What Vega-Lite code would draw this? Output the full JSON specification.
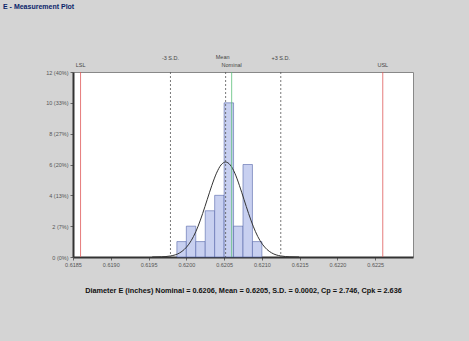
{
  "$schema": "https://vega.github.io/schema/vega-lite/v6.json",
  "width": 340,
  "height": 185,
  "autosize": {"type": "none"},
  "padding": {"left": 73, "top": 72, "right": 56, "bottom": 84},
  "background": "#d4d4d4",
  "title": {"text": "E - Measurement Plot", "anchor": "start", "frame": "group", "offset": 45, "dx": -70, "fontSize": 7, "fontWeight": "bold", "color": "#0a246a", "font": "Liberation Sans"},
  "config": {
    "view": {"fill": "white", "stroke": "#888888", "strokeWidth": 1},
    "font": "Liberation Sans",
    "axis": {"grid": false, "labelFont": "Liberation Sans", "titleFont": "Liberation Sans", "labelOverlap": false}
  },
  "datasets": {
    "bins": [
      {"start": 0.619875, "end": 0.62, "count": 1},
      {"start": 0.62, "end": 0.620125, "count": 2},
      {"start": 0.620125, "end": 0.62025, "count": 1},
      {"start": 0.62025, "end": 0.620375, "count": 3},
      {"start": 0.620375, "end": 0.6205, "count": 4},
      {"start": 0.6205, "end": 0.620625, "count": 10},
      {"start": 0.620625, "end": 0.62075, "count": 2},
      {"start": 0.62075, "end": 0.620875, "count": 6},
      {"start": 0.620875, "end": 0.621, "count": 1}
    ],
    "curve": [
      {"x": 0.619548, "y": 0.002},
      {"x": 0.61967, "y": 0.0135},
      {"x": 0.619791, "y": 0.068},
      {"x": 0.619913, "y": 0.27},
      {"x": 0.619973, "y": 0.49},
      {"x": 0.620034, "y": 0.834},
      {"x": 0.620095, "y": 1.332},
      {"x": 0.620156, "y": 2.0},
      {"x": 0.620216, "y": 2.82},
      {"x": 0.620277, "y": 3.736},
      {"x": 0.620338, "y": 4.65},
      {"x": 0.620399, "y": 5.436},
      {"x": 0.620459, "y": 5.97},
      {"x": 0.62052, "y": 6.16},
      {"x": 0.620581, "y": 5.97},
      {"x": 0.620642, "y": 5.436},
      {"x": 0.620702, "y": 4.65},
      {"x": 0.620763, "y": 3.736},
      {"x": 0.620824, "y": 2.82},
      {"x": 0.620885, "y": 2.0},
      {"x": 0.620945, "y": 1.332},
      {"x": 0.621006, "y": 0.834},
      {"x": 0.621067, "y": 0.49},
      {"x": 0.621128, "y": 0.27},
      {"x": 0.621249, "y": 0.068},
      {"x": 0.621371, "y": 0.0135},
      {"x": 0.621492, "y": 0.002}
    ],
    "lines": [
      {"x": 0.6186, "name": "LSL", "kind": "limit"},
      {"x": 0.6226, "name": "USL", "kind": "limit"},
      {"x": 0.61979, "name": "-3 S.D.", "kind": "sd"},
      {"x": 0.62125, "name": "+3 S.D.", "kind": "sd"},
      {"x": 0.62052, "name": "Mean", "kind": "mean"},
      {"x": 0.6206, "name": "Nominal", "kind": "nominal"}
    ]
  },
  "layer": [
    {
      "data": {"name": "bins"},
      "mark": {"type": "rect", "fill": "#c8d0f0", "stroke": "#5566aa", "strokeWidth": 0.6},
      "encoding": {
        "x": {
          "field": "start", "type": "quantitative",
          "scale": {"domain": [0.6185, 0.623], "nice": false, "zero": false},
          "axis": {
            "values": [0.6185, 0.619, 0.6195, 0.62, 0.6205, 0.621, 0.6215, 0.622, 0.6225],
            "format": ".4f",
            "labelFontSize": 5.5,
            "labelColor": "#555555",
            "labelPadding": 2,
            "labelFlush": false,
            "tickSize": 3,
            "tickColor": "#666666",
            "domainColor": "#333333",
            "domainWidth": 2,
            "title": "Diameter E (inches)  Nominal = 0.6206, Mean = 0.6205, S.D. = 0.0002, Cp = 2.746, Cpk = 2.636",
            "titleFontSize": 7.3,
            "titleFontWeight": "bold",
            "titleColor": "#111111",
            "titlePadding": 19
          }
        },
        "x2": {"field": "end"},
        "y": {
          "field": "count", "type": "quantitative",
          "scale": {"domain": [0, 12], "nice": false},
          "axis": {
            "values": [0, 2, 4, 6, 8, 10, 12],
            "tickCount": 7,
            "labelOverlap": false,
            "labelSeparation": 0,
            "labelBound": false,
            "labelExpr": "datum.value + ' (' + round(datum.value / 30 * 100) + '%)'",
            "labelFontSize": 5.5,
            "labelColor": "#555555",
            "labelPadding": 2,
            "labelFlush": false,
            "tickSize": 3,
            "tickColor": "#666666",
            "domainColor": "#333333",
            "domainWidth": 2,
            "title": null
          }
        },
        "y2": {"datum": 0}
      }
    },
    {
      "data": {"name": "curve"},
      "mark": {"type": "line", "interpolate": "monotone", "color": "#333333", "strokeWidth": 1},
      "encoding": {
        "x": {"field": "x", "type": "quantitative"},
        "y": {"field": "y", "type": "quantitative"}
      }
    },
    {
      "data": {"name": "lines"},
      "mark": {"type": "rule", "strokeWidth": 0.8},
      "encoding": {
        "x": {"field": "x", "type": "quantitative"},
        "color": {
          "field": "kind", "type": "nominal", "legend": null,
          "scale": {"domain": ["limit", "sd", "mean", "nominal"], "range": ["#e05a5a", "#555555", "#555555", "#5cbf7a"]}
        },
        "strokeDash": {
          "field": "kind", "type": "nominal", "legend": null,
          "scale": {"domain": ["limit", "sd", "mean", "nominal"], "range": [[1, 0], [2, 2], [2, 2], [1, 0]]}
        }
      }
    },
    {
      "data": {"name": "lines"},
      "transform": [{"filter": "datum.kind == 'sd'"}],
      "mark": {"type": "text", "fontSize": 5.5, "color": "#444444", "dy": -14, "baseline": "middle"},
      "encoding": {
        "x": {"field": "x", "type": "quantitative"},
        "y": {"datum": 12},
        "text": {"field": "name"}
      }
    },
    {
      "data": {"name": "lines"},
      "transform": [{"filter": "datum.kind == 'limit' || datum.kind == 'nominal'"}],
      "mark": {"type": "text", "fontSize": 5.5, "color": "#444444", "dy": -7, "baseline": "middle"},
      "encoding": {
        "x": {"field": "x", "type": "quantitative"},
        "y": {"datum": 12},
        "text": {"field": "name"}
      }
    },
    {
      "data": {"name": "lines"},
      "transform": [{"filter": "datum.kind == 'mean'"}],
      "mark": {"type": "text", "fontSize": 5.5, "color": "#444444", "dy": -15, "dx": -3, "baseline": "middle"},
      "encoding": {
        "x": {"field": "x", "type": "quantitative"},
        "y": {"datum": 12},
        "text": {"field": "name"}
      }
    }
  ]
}
